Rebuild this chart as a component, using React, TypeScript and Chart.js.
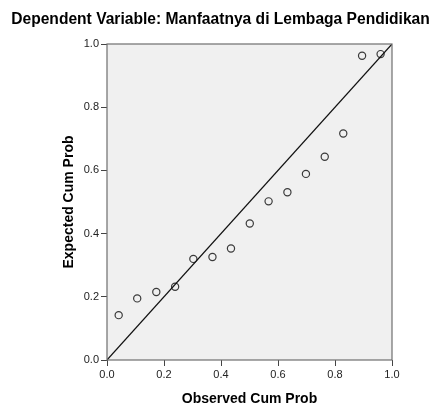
import React, { useEffect, useRef } from "react";
import { Chart, registerables } from "chart.js";

Chart.register(...registerables);

const chartTitle = "Dependent Variable: Manfaatnya di Lembaga Pendidikan";
const xAxisTitle = "Observed Cum Prob";
const yAxisTitle = "Expected Cum Prob";

const observedCumProb = [0.041, 0.106, 0.173, 0.239, 0.303, 0.370, 0.435, 0.501, 0.567, 0.633, 0.698, 0.764, 0.829, 0.895, 0.960];
const expectedCumProb = [0.142, 0.195, 0.215, 0.232, 0.320, 0.326, 0.353, 0.432, 0.502, 0.531, 0.589, 0.643, 0.717, 0.963, 0.968];

const diagonalX = [0, 1];
const diagonalY = [0, 1];

const tickValues = [0, 0.2, 0.4, 0.6, 0.8, 1.0];
const tickLabels = ["0.0", "0.2", "0.4", "0.6", "0.8", "1.0"];

const FONT = "'Liberation Sans', Arial, Helvetica, sans-serif";

const framePlugin = {
  id: "frame",
  beforeDraw(chart: any) {
    const { ctx, chartArea } = chart;
    ctx.save();
    ctx.fillStyle = "#f0f0f0";
    ctx.fillRect(chartArea.left, chartArea.top, chartArea.right - chartArea.left, chartArea.bottom - chartArea.top);
    ctx.restore();
  },
  afterDraw(chart: any) {
    const { ctx, chartArea } = chart;
    ctx.save();
    ctx.strokeStyle = "#6e6e6e";
    ctx.lineWidth = 1.2;
    ctx.strokeRect(chartArea.left, chartArea.top, chartArea.right - chartArea.left, chartArea.bottom - chartArea.top);
    ctx.restore();
  },
};

function axisOptions(title: string, isY: boolean) {
  return {
    type: "linear" as const,
    min: 0,
    max: 1,
    afterBuildTicks: (scale: any) => {
      scale.ticks = tickValues.map((v) => ({ value: v }));
    },
    afterFit: (scale: any) => {
      if (isY) scale.width = 101;
      else scale.height = 49;
    },
    ticks: {
      autoSkip: false,
      maxRotation: 0,
      padding: 2,
      color: "#222",
      font: { family: FONT, size: 11 },
      callback: (_v: any, i: number) => tickLabels[i],
    },
    grid: {
      display: true,
      drawOnChartArea: false,
      drawTicks: true,
      tickLength: 6,
      tickColor: "#444",
      tickWidth: 1,
    },
    border: { display: false },
    title: {
      display: true,
      text: title,
      color: "#000",
      font: { family: FONT, size: 14, weight: "bold" as const },
      padding: isY ? { top: 55, bottom: 0 } : { top: 0, bottom: 1 },
    },
  };
}

export default function App() {
  const ref = useRef<HTMLCanvasElement | null>(null);

  useEffect(() => {
    if (!ref.current) return;
    const chart = new Chart(ref.current, {
      type: "scatter",
      data: {
        datasets: [
          {
            type: "line" as const,
            label: "diagonal",
            data: diagonalX.map((x, i) => ({ x, y: diagonalY[i] })),
            borderColor: "#111",
            borderWidth: 1.2,
            pointRadius: 0,
            fill: false,
            tension: 0,
          },
          {
            label: "points",
            data: observedCumProb.map((x, i) => ({ x, y: expectedCumProb[i] })),
            pointStyle: "circle",
            pointRadius: 3.6,
            pointBorderWidth: 1.2,
            pointBorderColor: "#3a3a3a",
            pointBackgroundColor: "rgba(0,0,0,0)",
            borderColor: "#3a3a3a",
            backgroundColor: "rgba(0,0,0,0)",
          } as any,
        ],
      },
      options: {
        animation: false,
        responsive: false,
        maintainAspectRatio: false,
        layout: { padding: { left: 6, right: 0, top: 0, bottom: 0 } },
        plugins: {
          legend: { display: false },
          tooltip: { enabled: false },
          title: {
            display: true,
            text: chartTitle,
            color: "#000",
            font: { family: FONT, size: 15.6, weight: "bold" as const },
            padding: { top: 10.5, bottom: 14.78 },
          },
        },
        scales: {
          x: axisOptions(xAxisTitle, false),
          y: axisOptions(yAxisTitle, true),
          yRight: {
            type: "linear" as const,
            position: "right" as const,
            min: 0,
            max: 1,
            display: true,
            afterFit: (scale: any) => {
              scale.width = 43;
            },
            ticks: { display: false },
            grid: { display: false },
            border: { display: false },
          },
        },
      } as any,
      plugins: [framePlugin],
    });
    return () => chart.destroy();
  }, []);

  return (
    <div style={{ position: "fixed", left: 0, top: 0, width: 435, height: 409, background: "#fff" }}>
      <canvas ref={ref} width={435} height={409} style={{ width: 435, height: 409, display: "block" }} />
    </div>
  );
}
